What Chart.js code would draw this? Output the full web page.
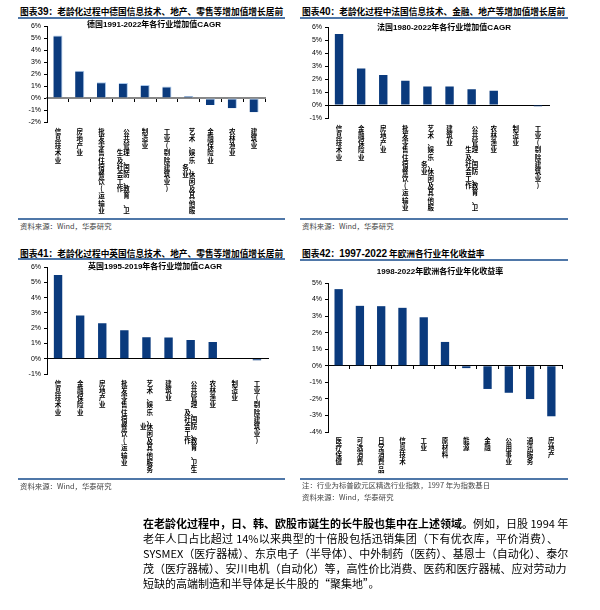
<!DOCTYPE html>
<html>
<head>
<meta charset="utf-8">
<script src="https://cdn.jsdelivr.net/npm/chart.js@4.4.1/dist/chart.umd.min.js"></script>
<style>
  body { margin: 0; width: 600px; height: 610px; background: #fff; position: relative; overflow: hidden;
         font-family: "Noto Sans CJK SC", "Liberation Sans", sans-serif; color: #000; }
  .abs { position: absolute; }
  .fig-title { font-size: 8.7px; font-weight: bold; white-space: nowrap; line-height: 12px; }
  .fig-title .num { font-family: "Liberation Sans", Arial, sans-serif; font-size: 10px; }
  .rule { height: 2px; background: #4f77a8; }
  .src { font-size: 7.4px; color: #444; white-space: nowrap; line-height: 10px; }
  .para { left: 143px; top: 516px; width: 415px; font-size: 11px; line-height: 15px; }
  .para div { text-align: justify; text-align-last: justify; white-space: nowrap; }
  .para div.last { text-align-last: left; }
</style>
</head>
<body>

<!-- panel 39 -->
<div class="abs fig-title" style="left:20px; top:6px;">图表<span class="num">39</span>：老龄化过程中德国信息技术、地产、零售等增加值增长居前</div>
<div class="abs rule" style="left:18px; top:17px; width:267px;"></div>
<div class="abs" style="left:0; top:19px; width:290px; height:199px;"><canvas id="chartDE"></canvas></div>
<div class="abs rule" style="left:18px; top:218px; width:267px;"></div>
<div class="abs src" style="left:20px; top:221px;">资料来源：Wind，华泰研究</div>

<!-- panel 40 -->
<div class="abs fig-title" style="left:302px; top:6px;">图表<span class="num">40</span>：老龄化过程中法国信息技术、金融、地产等增加值增长居前</div>
<div class="abs rule" style="left:300px; top:17px; width:268px;"></div>
<div class="abs" style="left:300px; top:20px; width:268px; height:198px;"><canvas id="chartFR"></canvas></div>
<div class="abs rule" style="left:300px; top:218px; width:268px;"></div>
<div class="abs src" style="left:302px; top:221px;">资料来源：Wind，华泰研究</div>

<!-- panel 41 -->
<div class="abs fig-title" style="left:20px; top:248px;">图表<span class="num">41</span>：老龄化过程中英国信息技术、地产、零售等增加值增长居前</div>
<div class="abs rule" style="left:18px; top:258px; width:267px;"></div>
<div class="abs" style="left:0; top:260px; width:290px; height:219px;"><canvas id="chartUK"></canvas></div>
<div class="abs rule" style="left:18px; top:478px; width:267px;"></div>
<div class="abs src" style="left:20px; top:481px;">资料来源：Wind，华泰研究</div>

<!-- panel 42 -->
<div class="abs fig-title" style="left:302px; top:248px;">图表<span class="num">42</span>：<span class="num">1997-2022</span> 年欧洲各行业年化收益率</div>
<div class="abs rule" style="left:300px; top:259px; width:268px;"></div>
<div class="abs" style="left:300px; top:262px; width:268px; height:217px;"><canvas id="chartEU"></canvas></div>
<div class="abs rule" style="left:300px; top:478px; width:268px;"></div>
<div class="abs src" style="left:302px; top:480px;">注：行业为标普欧元区精选行业指数，1997 年为指数基日</div>
<div class="abs src" style="left:302px; top:492px;">资料来源：Wind，华泰研究</div>

<div class="abs para">
  <div><b>在老龄化过程中，日、韩、欧股市诞生的长牛股也集中在上述领域。</b>例如，日股 1994 年</div>
  <div>老年人口占比超过 14%以来典型的十倍股包括迅销集团（下有优衣库，平价消费）、</div>
  <div>SYSMEX（医疗器械）、东京电子（半导体）、中外制药（医药）、基恩士（自动化）、泰尔</div>
  <div>茂（医疗器械）、安川电机（自动化）等，高性价比消费、医药和医疗器械、应对劳动力</div>
  <div class="last">短缺的高端制造和半导体是长牛股的“聚集地”。</div>
</div>

<script>
// ---- data ----
const germanyLabels = ['信息技术业', '房地产业', '批发零售住宿餐饮(运输业', '公共管理、国防、教育、卫生及社会工作',
    '制造业', '工业(剔除建筑业)', '艺术、娱乐、休闲及其他服务业', '金融保险业', '农林渔业', '建筑业'];
const germanyValues = [5.22, 2.28, 1.32, 1.26, 1.08, 0.96, 0.18, -0.58, -0.86, -1.18];

const franceLabels = ['信息技术业', '金融保险业', '房地产业', '批发零售住宿餐饮(运输业', '艺术、娱乐、休闲及其他服务业',
    '建筑业', '公共管理、国防、教育、卫生及社会工作', '农林渔业', '制造业', '工业(剔除建筑业)'];
const franceValues = [5.48, 2.82, 2.32, 1.88, 1.43, 1.42, 1.21, 1.11, 0, -0.09];

const ukLabels = franceLabels.slice();
const ukValues = [5.49, 2.83, 2.32, 1.87, 1.41, 1.39, 1.23, 1.09, 0, -0.1];

const europeLabels = ['医疗保健', '可选消费', '日常消费品', '信息技术', '工业', '原材料', '能源', '金融', '公用事业', '通讯服务', '房地产'];
const europeValues = [4.63, 3.62, 3.6, 3.5, 2.93, 1.44, -0.14, -1.4, -1.63, -2.01, -3.05];

const BAR_COLOR = '#0a3a7d';

// stack characters vertically; long labels wrap into a second column on the left
function stackLabel(text, maxLen) {
    const chars = Array.from(text);
    if (chars.length <= maxLen) return chars;
    const right = chars.slice(0, maxLen);
    const left = chars.slice(maxLen);
    const start = Math.ceil((right.length - left.length) / 2);
    return right.map((c, i) => (left[i - start] || '\u3000') + c);
}

// small bold title inside the plot, like the Excel chart title
const innerTitle = {
    id: 'innerTitle',
    afterDraw(chart, args, opts) {
        const ctx = chart.ctx;
        ctx.save();
        ctx.font = 'bold 8px "Liberation Sans", "Noto Sans CJK SC"';
        ctx.fillStyle = '#000';
        ctx.textAlign = 'center';
        ctx.textBaseline = 'middle';
        ctx.fillText(opts.text, opts.x, opts.y);
        ctx.restore();
    }
};

function makeBarChart(id, labels, values, o) {
    const ctx = document.getElementById(id).getContext('2d');
    return new Chart(ctx, {
        type: 'bar',
        plugins: [innerTitle],
        data: {
            labels: labels,
            datasets: [{
                data: values,
                backgroundColor: BAR_COLOR,
                borderColor: o.edge || BAR_COLOR,
                borderWidth: o.edge ? { top: 1, right: 1, left: 0, bottom: 0 } : 0,
                borderSkipped: false,
                barPercentage: o.barPct,
                categoryPercentage: 1
            }]
        },
        options: {
            responsive: true,
            maintainAspectRatio: false,
            animation: false,
            layout: { padding: { top: o.padTop, right: o.padRight, bottom: 0, left: 0 } },
            plugins: {
                legend: { display: false },
                tooltip: { enabled: false },
                innerTitle: { text: o.title, x: o.titleX, y: o.titleY }
            },
            scales: {
                x: {
                    type: 'category',
                    position: { y: 0 }, // category axis line sits on the 0% line
                    offset: true,
                    ticks: { display: false },
                    grid: { drawOnChartArea: false, offset: true, drawTicks: o.zeroTicks, tickLength: 3, tickColor: '#000' },
                    border: { color: o.zeroColor, width: o.zeroWidth }
                },
                x2: {
                    type: 'category',
                    position: 'bottom',
                    offset: true,
                    grid: { display: false, drawTicks: false },
                    border: { display: false },
                    ticks: {
                        autoSkip: false, maxRotation: 0, minRotation: 0, padding: o.labelPad, color: '#000',
                        font: { family: 'Noto Sans CJK SC', size: 6.5, weight: 'bold', lineHeight: 1.1 },
                        callback: (v, i) => stackLabel(labels[i], o.maxLen)
                    },
                    afterFit: s => { s.height = o.labelBox; }
                },
                y: {
                    min: o.min, max: o.max,
                    ticks: { stepSize: 1, padding: 3, color: '#000',
                        font: { family: 'Liberation Sans', size: 7 },
                        callback: v => v + '%' },
                    grid: { drawOnChartArea: false, tickLength: 3, tickColor: '#000' },
                    border: { color: '#000', width: 1 },
                    afterFit: s => { s.width = o.yWidth; }
                }
            }
        }
    });
}

makeBarChart('chartDE', germanyLabels, germanyValues, {
    title: '德国1991-2022年各行业增加值CAGR', titleX: 154, titleY: 6,
    min: -2, max: 6, yWidth: 47, padTop: 3, padRight: 25, labelBox: 96, labelPad: 6, maxLen: 12,
    barPct: 0.42, edge: '#a9c8ec', zeroColor: '#888', zeroWidth: 2, zeroTicks: true
});
makeBarChart('chartFR', franceLabels, franceValues, {
    title: '法国1980-2022年各行业增加值CAGR', titleX: 144, titleY: 8,
    min: -1, max: 6, yWidth: 28, padTop: 3, padRight: 19, labelBox: 100, labelPad: 7, maxLen: 12,
    barPct: 0.38, zeroColor: '#000', zeroWidth: 1, zeroTicks: false
});
makeBarChart('chartUK', ukLabels, ukValues, {
    title: '英国1995-2019年各行业增加值CAGR', titleX: 155, titleY: 7,
    min: -1, max: 6, yWidth: 47, padTop: 3, padRight: 22, labelBox: 105, labelPad: 6, maxLen: 13,
    barPct: 0.38, zeroColor: '#000', zeroWidth: 1, zeroTicks: false
});
makeBarChart('chartEU', europeLabels, europeValues, {
    title: '1998-2022年欧洲各行业年化收益率', titleX: 140, titleY: 10,
    min: -4, max: 5, yWidth: 28, padTop: 21, padRight: 6, labelBox: 47, labelPad: 5, maxLen: 12,
    barPct: 0.39, zeroColor: '#000', zeroWidth: 1, zeroTicks: true
});
</script>
</body>
</html>
